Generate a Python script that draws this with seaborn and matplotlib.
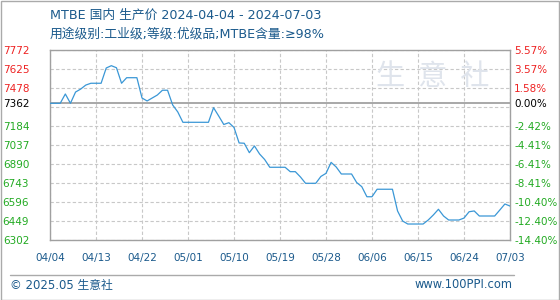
import matplotlib
matplotlib.use("Agg")
import matplotlib.pyplot as plt
import seaborn as sns
import pandas as pd
from matplotlib.patches import Rectangle
from matplotlib.lines import Line2D

# ---------------- data ----------------
start_date = "2024-04-04"
end_date = "2024-07-03"
prices = [
    7362, 7362, 7362, 7434, 7362, 7449, 7472, 7503, 7517, 7517,
    7517, 7635, 7653, 7637, 7517, 7560, 7560, 7560, 7403, 7380,
    7403, 7426, 7463, 7463, 7349, 7295, 7215, 7215, 7215, 7215,
    7215, 7215, 7328, 7264, 7198, 7212, 7175, 7055, 7053, 6980,
    7032, 6970, 6927, 6867, 6867, 6867, 6867, 6833, 6833, 6792,
    6743, 6743, 6743, 6796, 6820, 6905, 6869, 6815, 6815, 6815,
    6749, 6717, 6639, 6639, 6697, 6697, 6697, 6697, 6529, 6451,
    6428, 6428, 6428, 6428, 6459, 6498, 6542, 6490, 6459, 6459,
    6459, 6474, 6523, 6529, 6490, 6490, 6490, 6490, 6536, 6583,
    6567,
]
base_price = 7362
grid_values = [7772, 7625, 7478, 7331, 7184, 7037, 6890, 6743, 6596, 6449, 6302]
left_ticks = [7772, 7625, 7478, 7362, 7184, 7037, 6890, 6743, 6596, 6449, 6302]
right_labels = ["5.57%", "3.57%", "1.58%", "0.00%", "-2.42%", "-4.41%", "-6.41%",
                "-8.41%", "-10.40%", "-12.40%", "-14.40%"]
x_tick_dates = ["2024-04-04", "2024-04-13", "2024-04-22", "2024-05-01", "2024-05-10",
                "2024-05-19", "2024-05-28", "2024-06-06", "2024-06-15", "2024-06-24",
                "2024-07-03"]
x_tick_labels = ["04/04", "04/13", "04/22", "05/01", "05/10", "05/19", "05/28",
                 "06/06", "06/15", "06/24", "07/03"]
title = "MTBE 国内 生产价 2024-04-04 - 2024-07-03"
subtitle = "用途级别:工业级;等级:优级品;MTBE含量:≥98%"
footer_left = "© 2025.05 生意社"
footer_right = "www.100PPI.com"

df = pd.DataFrame({"date": pd.date_range(start_date, end_date, freq="D"),
                   "price": prices})

# ---------------- style ----------------
sns.set_style("white")
plt.rcParams["font.family"] = ["DejaVu Sans", "Noto Sans CJK SC"]

RED = "#ee2222"
GREEN = "#22aa22"
BLUE_TXT = "#1b5a8c"
LINE = "#3a97d6"
FRAME = "#a0a0a0"

fig = plt.figure(figsize=(5.6, 3.0), dpi=100)
ax = fig.add_axes([50 / 560, 1 - 240.3 / 300, 460 / 560, 190 / 300])

# watermark
fig.text(433 / 560, 1 - 77 / 300, "生  意  社", fontsize=21, color="#dfe4ec",
         ha="center", va="center", family=["Noto Sans CJK SC"], zorder=0)

sns.lineplot(data=df, x="date", y="price", ax=ax, color=LINE, linewidth=0.9, zorder=3)

ax.set_xlim(pd.Timestamp(start_date), pd.Timestamp(end_date))
ax.set_ylim(grid_values[-1], grid_values[0])
ax.set_xlabel("")
ax.set_ylabel("")

# grid
for g in grid_values:
    ax.axhline(g, color="#c8c8c8", linewidth=0.8, linestyle=(0, (3, 2)), zorder=1)
for d in x_tick_dates:
    ax.axvline(pd.Timestamp(d), color="#c8c8c8", linewidth=0.8, linestyle=(0, (3, 2)), zorder=1)
ax.axhline(base_price, color="#999999", linewidth=1.2, zorder=2)

for s in ax.spines.values():
    s.set_color(FRAME)
    s.set_linewidth(1.0)

# left ticks
ax.set_yticks(left_ticks)
ax.set_yticklabels([str(v) for v in left_ticks])
ax.tick_params(axis="y", length=0, pad=15, labelsize=7.5)
for lab, v in zip(ax.get_yticklabels(), left_ticks):
    lab.set_color(RED if v > base_price else ("black" if v == base_price else GREEN))

# x ticks
ax.set_xticks([pd.Timestamp(d) for d in x_tick_dates])
ax.set_xticklabels(x_tick_labels)
ax.tick_params(axis="x", length=0, pad=9, labelsize=7.5, labelcolor=BLUE_TXT)

# right axis
ax2 = ax.twinx()
ax2.set_ylim(ax.get_ylim())
ax2.set_yticks(left_ticks)
ax2.set_yticklabels(right_labels)
ax2.tick_params(axis="y", length=0, pad=3, labelsize=7.5)
for lab, v in zip(ax2.get_yticklabels(), left_ticks):
    lab.set_color(RED if v > base_price else ("black" if v == base_price else GREEN))
for s in ax2.spines.values():
    s.set_visible(False)

# titles
fig.text(50 / 560, 1 - 15 / 300, title, fontsize=9.2, color=BLUE_TXT, ha="left", va="center")
fig.text(50 / 560, 1 - 34 / 300, subtitle, fontsize=9.2, color=BLUE_TXT, ha="left", va="center")

# footer
fig.add_artist(Line2D([10 / 560, 514 / 560], [1 - 275 / 300, 1 - 275 / 300],
                      transform=fig.transFigure, color="#aaaaaa", linewidth=1.0))
fig.text(10 / 560, 1 - 285 / 300, footer_left, fontsize=8.5, color=BLUE_TXT, ha="left", va="center")
fig.text(513 / 560, 1 - 285 / 300, footer_right, fontsize=8.3, color=BLUE_TXT, ha="right", va="center")

# outer border
fig.add_artist(Rectangle((0.5 / 560, 0.5 / 300), 558.5 / 560, 298.5 / 300, transform=fig.transFigure,
                         fill=False, edgecolor="#aaaaaa", linewidth=1.0))

fig.savefig("out.png", dpi=100)
